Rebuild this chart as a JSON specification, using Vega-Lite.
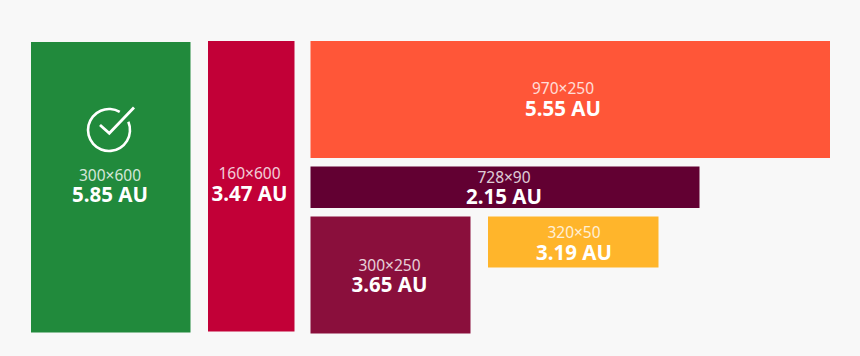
{
"$schema":"https://vega.github.io/schema/vega-lite/v6.json",
"width":860,"height":356,"padding":0,
"autosize":{"type":"fit","contains":"padding"},
"background":"#f8f8f8",
"view":{"stroke":null},
"datasets":{
"ads":[
{"size":"300×600","au":"5.85 AU","x0":31,"x1":190.5,"y0":42,"y1":332.5,"cx":110,"ys":175.5,"ya":195.5},
{"size":"160×600","au":"3.47 AU","x0":208,"x1":294.5,"y0":41,"y1":331.5,"cx":249.5,"ys":174,"ya":194.5},
{"size":"970×250","au":"5.55 AU","x0":310.5,"x1":830,"y0":41,"y1":158,"cx":563,"ys":89,"ya":109.5},
{"size":"728×90","au":"2.15 AU","x0":310.5,"x1":699.5,"y0":166.5,"y1":208,"cx":504,"ys":177.5,"ya":197.5},
{"size":"300×250","au":"3.65 AU","x0":310.5,"x1":470.5,"y0":216.5,"y1":333.5,"cx":389.5,"ys":266,"ya":286},
{"size":"320×50","au":"3.19 AU","x0":488,"x1":658.5,"y0":216.5,"y1":267.5,"cx":574,"ys":233,"ya":253.5}
],
"check":[{"x":100,"y":125,"o":0},{"x":109.3,"y":133.3,"o":1},{"x":134,"y":107.5,"o":2}],
"icon":[{"x":109,"y":130}]
},
"layer":[
{"data":{"name":"ads"},"mark":{"type":"rect"},
"encoding":{
"x":{"field":"x0","type":"quantitative","scale":{"domain":[0,860]},"axis":null},
"x2":{"field":"x1"},
"y":{"field":"y0","type":"quantitative","scale":{"domain":[356,0]},"axis":null},
"y2":{"field":"y1"},
"color":{"field":"size","type":"nominal","legend":null,"scale":{"domain":["300×600","160×600","970×250","728×90","300×250","320×50"],"range":["#218a3c","#c20037","#ff5638","#620032","#8a0f3c","#ffb52b"]}}
}},
{"data":{"name":"icon"},"mark":{"type":"arc","radius":22.3,"radius2":19.7,"theta":1.17,"theta2":6.82,"fill":"#ffffff"},
"encoding":{
"x":{"field":"x","type":"quantitative","scale":{"domain":[0,860]},"axis":null},
"y":{"field":"y","type":"quantitative","scale":{"domain":[356,0]},"axis":null}
}},
{"data":{"name":"check"},"mark":{"type":"line","color":"#ffffff","strokeWidth":2.8},
"encoding":{
"x":{"field":"x","type":"quantitative","scale":{"domain":[0,860]},"axis":null},
"y":{"field":"y","type":"quantitative","scale":{"domain":[356,0]},"axis":null},
"order":{"field":"o","type":"quantitative"}
}},
{"data":{"name":"ads"},"mark":{"type":"text","font":"Noto Sans","fontSize":15.5,"color":"#ffffff","opacity":0.8,"align":"center","baseline":"middle"},
"encoding":{
"x":{"field":"cx","type":"quantitative","scale":{"domain":[0,860]},"axis":null},
"y":{"field":"ys","type":"quantitative","scale":{"domain":[356,0]},"axis":null},
"text":{"field":"size","type":"nominal"}
}},
{"data":{"name":"ads"},"mark":{"type":"text","font":"Noto Sans","fontSize":20.5,"fontWeight":"bold","color":"#ffffff","align":"center","baseline":"middle"},
"encoding":{
"x":{"field":"cx","type":"quantitative","scale":{"domain":[0,860]},"axis":null},
"y":{"field":"ya","type":"quantitative","scale":{"domain":[356,0]},"axis":null},
"text":{"field":"au","type":"nominal"}
}}
]
}
